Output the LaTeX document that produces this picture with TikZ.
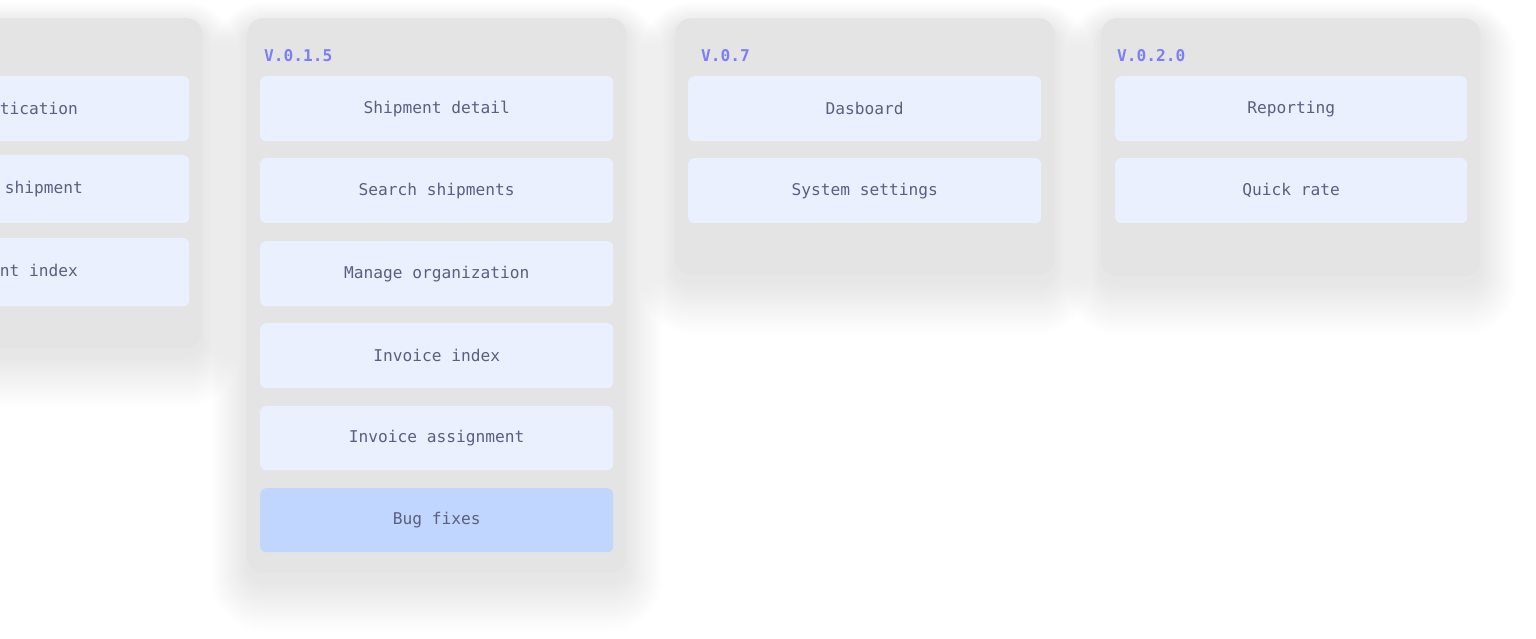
\documentclass[tikz,border=0pt]{standalone}
\usepackage{fontspec}
\setmonofont{DejaVu Sans Mono}
\definecolor{cardgrey}{HTML}{E4E4E4}
\definecolor{itemfill}{HTML}{EAF0FE}
\definecolor{bugfill}{HTML}{C0D6FE}
\definecolor{itemtext}{HTML}{5C5E82}
\definecolor{vlabel}{HTML}{7A7EF7}
\tikzset{
  card/.style={draw=none, fill=cardgrey, rounded corners=16pt, anchor=north west,
    minimum width=379pt, inner sep=0pt},
  item/.style={draw=none, fill=itemfill, rounded corners=6pt, anchor=north west,
    minimum width=353pt, inner sep=0pt, text=itemtext,
    font=\ttfamily\fontsize{16.2}{18}\selectfont},
  bugitem/.style={item, fill=bugfill},
  ver/.style={anchor=west, inner sep=0pt, text=vlabel,
    font=\ttfamily\bfseries\fontsize{16.2}{18}\selectfont},
  softshade/.style={fill=black, opacity=0.0024},
}
\newcommand{\cardshadow}[1]{%
  \foreach \i in {1,...,24}{%
    \pgfmathsetmacro{\es}{\i*1.5}%
    \pgfmathsetmacro{\et}{\i*1.0-8}%
    \pgfmathsetmacro{\eb}{\i*2.1+8}%
    \pgfmathsetmacro{\r}{16+\i*1.6}%
    \fill[softshade, rounded corners=\r pt]
      ([xshift=-\es pt, yshift=\et pt]#1.north west) rectangle
      ([xshift=\es pt, yshift=-\eb pt]#1.south east);
  }%
}
\begin{document}
\begin{tikzpicture}[x=1pt,y=-1pt]
\useasboundingbox (0,0) rectangle (1536,639);
\fill[white] (0,0) rectangle (1536,639);
% card placeholders for shadows
\path node[card, fill=none, minimum height=330pt] (s1) at (-177,18) {}
      node[card, fill=none, minimum height=555pt] (s2) at (247,18) {}
      node[card, fill=none, minimum height=257pt] (s3) at (675,18) {}
      node[card, fill=none, minimum height=258pt] (s4) at (1101,18) {};
\cardshadow{s1}\cardshadow{s2}\cardshadow{s3}\cardshadow{s4}
% cards
\node[card, minimum height=330pt] (c1) at (-177,18) {};
\node[card, minimum height=555pt] (c2) at (247,18) {};
\node[card, minimum height=257pt] (c3) at (675,18) {};
\node[card, minimum height=258pt] (c4) at (1101,18) {};
% card 1
\node[item, minimum height=65pt, minimum width=359pt] (a1) at (-170,76) {Authentication};
\node[item, minimum height=68pt, minimum width=359pt] (a2) at (-170,155) {Create shipment};
\node[item, minimum height=68pt, minimum width=359pt] (a3) at (-170,238) {Shipment index};
% card 2
\node[ver] (v2) at (264,56) {V.0.1.5};
\node[item, minimum height=65pt] (b1) at (260,76) {Shipment detail};
\node[item, minimum height=65pt] (b2) at (260,158) {Search shipments};
\node[item, minimum height=65pt] (b3) at (260,241) {Manage organization};
\node[item, minimum height=65pt] (b4) at (260,323) {Invoice index};
\node[item, minimum height=64pt] (b5) at (260,406) {Invoice assignment};
\node[bugitem, minimum height=64pt] (b6) at (260,488) {Bug fixes};
% card 3
\node[ver] (v3) at (701,56) {V.0.7};
\node[item, minimum height=65pt] (d1) at (688,76) {Dasboard};
\node[item, minimum height=65pt] (d2) at (688,158) {System settings};
% card 4
\node[ver] (v4) at (1117,56) {V.0.2.0};
\node[item, minimum height=65pt, minimum width=352pt] (e1) at (1115,76) {Reporting};
\node[item, minimum height=65pt, minimum width=352pt] (e2) at (1115,158) {Quick rate};
\end{tikzpicture}
\end{document}
